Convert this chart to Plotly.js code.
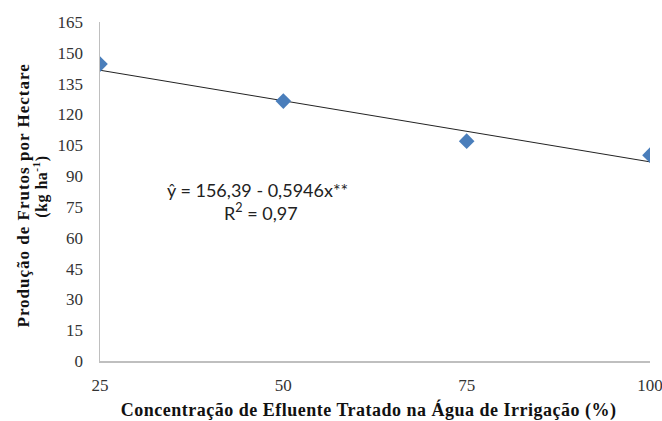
<!DOCTYPE html>
<html>
<head>
<meta charset="utf-8">
<script src="https://cdn.plot.ly/plotly-3.0.1.min.js"></script>
<style>html,body{margin:0;padding:0;background:#fff;}#chart{width:662px;height:421px;}</style>
</head>
<body>
<div id="chart"></div>
<script>
const concentrations = [25, 50, 75, 100];
const production = [144.5, 126.5, 107, 100.2];
const intercept = 156.39;
const slope = -0.5946;
const yTicks = [0, 15, 30, 45, 60, 75, 90, 105, 120, 135, 150, 165];
const xTicks = [25, 50, 75, 100];
const equationText = 'ŷ = 156,39 - 0,5946x**';
const r2Text = 'R<sup>2</sup> = 0,97';
const xTitle = 'Concentração de Efluente Tratado na Água de Irrigação (%)';
const yTitleLine1 = 'Produção de Frutos por Hectare';
const yTitleLine2 = '(kg ha<sup>-1</sup>)';

const trendX = [concentrations[0], concentrations[concentrations.length - 1]];
const trendY = trendX.map(x => intercept + slope * x);

const serif = "Liberation Serif, Times New Roman, serif";
const sans = "Lato, Liberation Sans, Arial, sans-serif";

Plotly.newPlot('chart', [
  {
    x: trendX, y: trendY, mode: 'lines', type: 'scatter',
    line: {color: '#222222', width: 1}, hoverinfo: 'skip', showlegend: false
  },
  {
    x: concentrations, y: production, mode: 'markers', type: 'scatter',
    marker: {symbol: 'diamond', size: 12, color: '#4a7ebb'}, showlegend: false
  }
], {
  width: 662, height: 421,
  margin: {l: 100, r: 12, t: 22, b: 60},
  paper_bgcolor: '#ffffff', plot_bgcolor: '#ffffff',
  font: {family: serif, size: 17, color: '#222'},
  xaxis: {
    range: [25, 100], tickvals: xTicks, ticktext: xTicks.map(String),
    showgrid: false, zeroline: false, showline: true, linecolor: '#bfbfbf', linewidth: 1.5,
    ticks: 'outside', ticklen: 8, tickcolor: 'rgba(0,0,0,0)', ticklabeloverflow: 'allow',
    tickfont: {family: serif, size: 17, color: '#333'}
  },
  yaxis: {
    range: [0, 165], tickvals: yTicks, ticktext: yTicks.map(String),
    showgrid: false, zeroline: false, showline: true, linecolor: '#bfbfbf', linewidth: 1.5,
    ticks: 'outside', ticklen: 12, tickcolor: 'rgba(0,0,0,0)', ticklabeloverflow: 'allow',
    tickfont: {family: serif, size: 17, color: '#333'}
  },
  annotations: [
    {xref: 'x', yref: 'y', x: 46.5, y: 83.2, text: equationText,
     showarrow: false, xanchor: 'center', yanchor: 'middle', font: {family: sans, size: 18, color: '#222'}},
    {xref: 'x', yref: 'y', x: 47.0, y: 72.5, text: r2Text,
     showarrow: false, xanchor: 'center', yanchor: 'middle', font: {family: sans, size: 18, color: '#222'}},
    {xref: 'paper', yref: 'paper', x: 0.5, y: 0, xshift: -7, yshift: -49, text: '<b>' + xTitle + '</b>',
     showarrow: false, xanchor: 'center', yanchor: 'middle', font: {family: serif, size: 18, color: '#111'}},
    {xref: 'paper', yref: 'paper', x: 0, y: 0.5, xshift: -77, yshift: -4, text: '<b>' + yTitleLine1 + '</b>', textangle: -90,
     showarrow: false, xanchor: 'center', yanchor: 'middle', font: {family: serif, size: 17, color: '#111'}},
    {xref: 'paper', yref: 'paper', x: 0, y: 0.5, xshift: -59, yshift: 5, text: '<b>' + yTitleLine2 + '</b>', textangle: -90,
     showarrow: false, xanchor: 'center', yanchor: 'middle', font: {family: serif, size: 16, color: '#111'}}
  ]
}, {displayModeBar: false, staticPlot: true}).then(function (gd) {
  const texts = gd.querySelectorAll('.annotation-text');
  const spacing = ['0px', '0px', '0.5px', '1px', '0.5px'];
  texts.forEach(function (t, i) { t.style.letterSpacing = spacing[i] || '0px'; });
});
</script>
</body>
</html>
